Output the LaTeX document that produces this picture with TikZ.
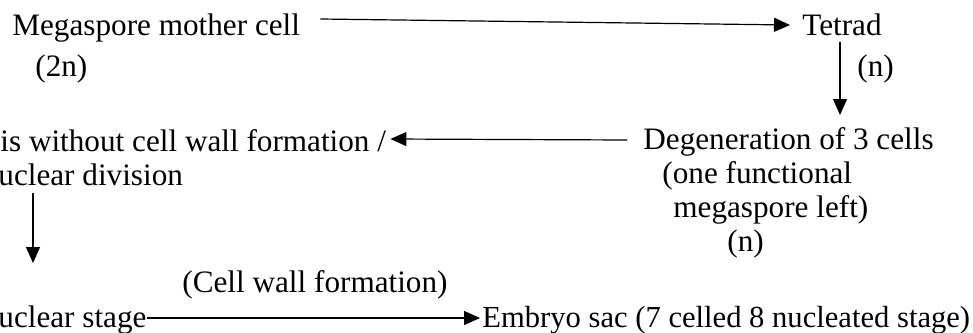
\documentclass[tikz,border=0pt]{standalone}
\usepackage{fontspec}
\setmainfont{Liberation Serif}
\usetikzlibrary{arrows.meta}
\tikzset{
  font=\fontsize{15.6}{17}\selectfont,
  stage/.style={
    inner sep=0pt,
    anchor=base west,
    align=left
  },
  note/.style={
    inner sep=0pt,
    anchor=base west
  },
  arrow/.style={-{Triangle[length=8pt,width=7pt]}, line width=0.6pt}
}

\begin{document}
\begin{tikzpicture}[x=0.5pt, y=-0.5pt]
\useasboundingbox (0,0) rectangle (973,332);
\clip (0,0) rectangle (973,332);

% Top row
\node[stage] (mmc) at (12,35) {Megaspore mother cell};
\node[note] (mmcn) at (35,76) {(2n)};
\node[stage] (tetrad) at (802,35) {Tetrad};
\node[note] (tetradn) at (857,76) {(n)};

% Middle row (base = last line)
\node[stage] (degen) at (643,217) {Degeneration of 3 cells\\
\hspace*{9.5pt}(one functional\\
\hspace*{15pt}megaspore left)};
\node[note] (degenn) at (727,251) {(n)};
\node[stage] (mitosis) at (-2,185) {\hspace*{1pt}is without cell wall formation /\\
uclear division};

% Bottom row
\node[stage] (free) at (-2,327) {uclear stage};
\node[stage, font=\fontsize{15.3}{17}\selectfont] (embryo) at (482,327) {Embryo sac (7 celled 8 nucleated stage)};
\node[note] (cwf) at (182,292) {(Cell wall formation)};

% Edges
\draw[arrow] ([shift={(20,-16)}]mmc.base east) -- ([shift={(-12,-10)}]tetrad.base west);
\draw[arrow] ([shift={(38,7)}]tetrad.base west) -- ([shift={(197,-102)}]degen.base west);
\draw[arrow] ([shift={(-16,-77)}]degen.base west) -- ([shift={(4,-46)}]mitosis.base east);
\draw[arrow] ([shift={(35,8)}]mitosis.base west) -- ([shift={(35,-64)}]free.base west);
\draw[arrow] ([shift={(0,-9)}]free.base east) -- ([shift={(-2,-9)}]embryo.base west);

\end{tikzpicture}
\end{document}
